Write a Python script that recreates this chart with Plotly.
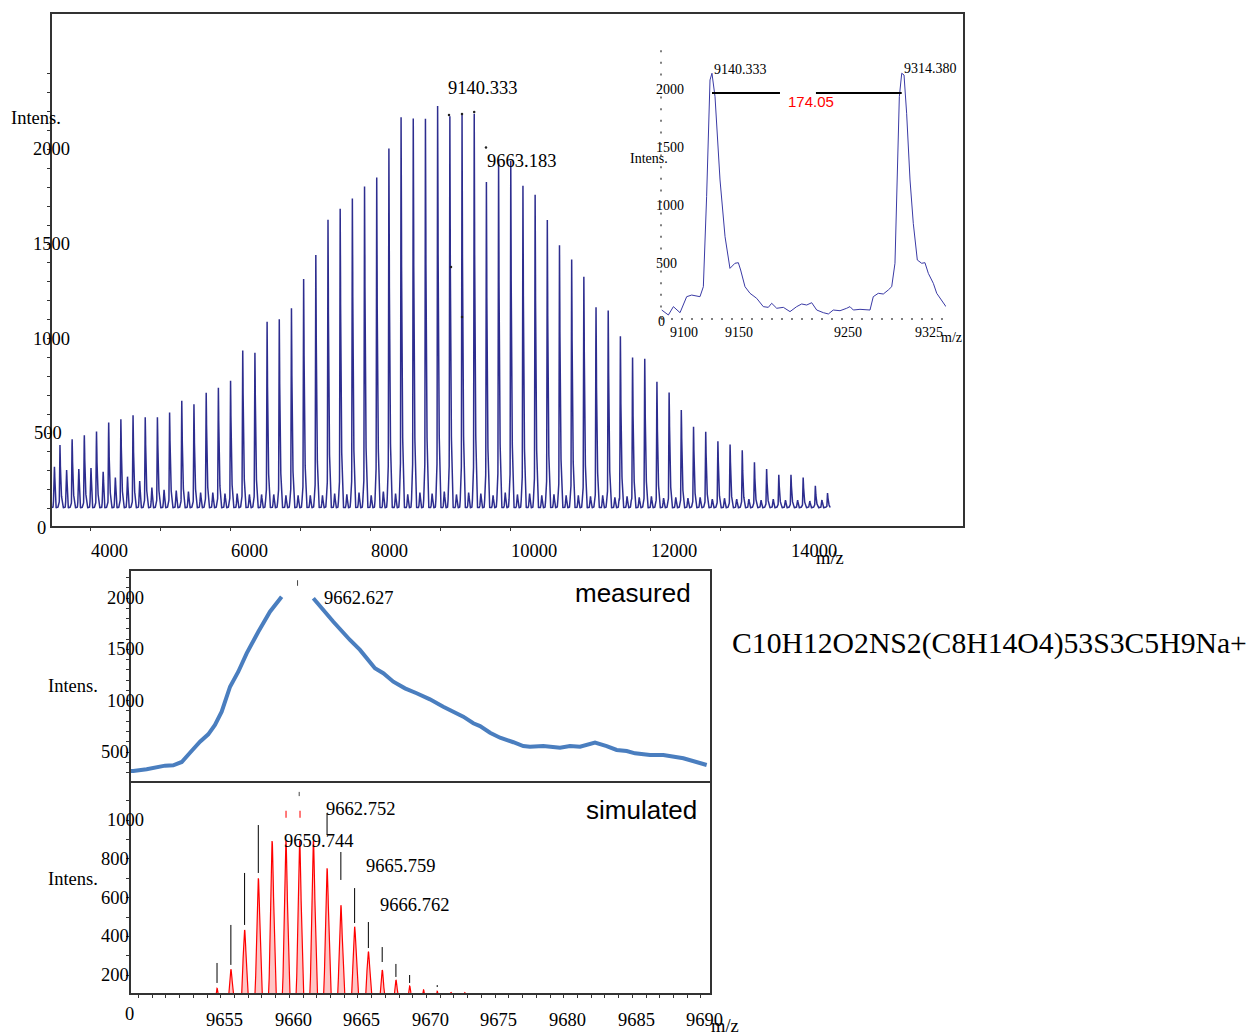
import numpy as np
import plotly.graph_objects as go

W, H = 1252, 1035
SERIF = "Liberation Serif, 'Times New Roman', serif"
SANS = "Liberation Sans, Arial, sans-serif"
FRAME = "#333333"

# ---------------- overview spectrum ----------------
REPEAT_UNIT = 174.05            # spacing of the oligomer series
REF_PEAK = 9140.333             # labelled member of the series
main_peak_index = list(range(-32, 32))
main_peak_height = [
    433, 463, 484, 504, 551, 569, 590, 579, 579, 604,
    666, 648, 710, 736, 772, 930, 918, 1080, 1093, 1151,
    1304, 1430,
    1614, 1672, 1725, 1788, 1836, 1989, 2153, 2148, 2148, 2217,
    2164, 2169, 2175, 1815, 1931, 1926, 1794, 1746, 1614, 1481,
    1406, 1315, 1156, 1138, 1004, 892, 886, 766, 710, 618,
    530, 504, 454, 437, 406, 343, 308, 278, 278, 263,
    220, 181,
]
SATELLITE_SHIFT = 95.0
satellite_index = list(range(-33, 31))
satellite_height = [
    322, 304, 310, 315, 295, 264, 269, 246, 211,
    200, 195, 190, 185, 185, 180, 180, 175, 175, 175, 170, 170, 170, 170,
    180, 175, 185, 170, 190, 180, 175, 185, 180, 190, 175, 185, 180, 170,
    185, 175, 180, 170, 175, 170,
    170, 165, 170, 160, 165, 160, 165, 155, 160, 155, 160, 150, 155, 150,
    150, 145, 150, 145, 145, 140, 145,
]
BASELINE = 105
overview_marks_mz = [9128.6, 9314.4, 9488.4, 9657.0, 9157.0, 9314.0]
overview_marks_int = [2183, 2188, 2198, 2011, 1378, 1114]

# ---------------- zoomed region of two series members ----------------
inset_mz = [9094.2, 9100.3, 9104.9, 9111.0, 9117.1, 9121.7, 9129.3, 9132.4, 9135.4, 9138.5,
            9140.3, 9143.1, 9147.7, 9152.3, 9156.8, 9161.4, 9164.5, 9166.6, 9170.6, 9175.2,
            9181.3, 9187.4, 9192.0, 9195.1, 9199.7, 9205.8, 9211.9, 9218.0, 9222.6, 9227.2,
            9231.8, 9236.4, 9242.5, 9247.1, 9251.6, 9257.8, 9263.9, 9266.9, 9270.0, 9276.1,
            9285.3, 9288.3, 9292.9, 9297.5, 9302.1, 9305.2, 9308.2, 9309.8, 9312.2, 9314.4,
            9316.5, 9318.9, 9322.0, 9325.0, 9328.7, 9332.7, 9335.7, 9338.8, 9343.4, 9346.5,
            9351.0, 9355.0]
inset_int = [99, 56, 128, 76, 214, 228, 214, 300, 1076, 2082,
             2140, 1938, 1220, 731, 458, 502, 507, 444, 300, 243,
             200, 128, 122, 157, 114, 122, 85, 128, 151, 142,
             162, 99, 76, 65, 99, 93, 114, 128, 99, 105,
             99, 214, 243, 237, 272, 300, 502, 1076, 1938, 2140,
             2125, 1795, 1220, 846, 530, 502, 507, 415, 329, 243,
             185, 128]
inset_pair = [9140.333, 9314.380]
inset_pair_level = 1970
inset_gap_edges = [9202.7, 9235.7]

# ---------------- measured isotope envelope ----------------
meas_mz = [9648.97, 9649.63, 9650.60, 9651.33, 9651.94, 9652.54, 9653.16, 9653.76, 9654.49, 9655.09,
           9655.58, 9656.07, 9656.68, 9657.28, 9657.89, 9658.74, 9659.59, 9660.44, None, 9662.75,
           9663.36, 9664.21, 9665.42, 9666.15, 9667.24, 9667.85, 9668.58, 9669.43, 9670.28, 9671.25,
           9672.22, 9673.68, 9674.41, 9674.90, 9675.63, 9676.36, 9677.33, 9678.05, 9678.54, 9679.51,
           9680.73, 9681.46, 9682.19, 9683.28, 9684.13, 9684.86, 9685.59, 9686.20, 9687.29, 9688.26,
           9689.72, 9691.42]
meas_int = [318, 315, 332, 351, 367, 371, 403, 493, 600, 672,
            763, 893, 1136, 1282, 1461, 1672, 1867, 2013, None, 1997,
            1900, 1769, 1591, 1494, 1315, 1267, 1185, 1120, 1072, 1013,
            941, 844, 780, 753, 688, 639, 595, 558, 552, 558,
            542, 558, 552, 591, 558, 520, 510, 487, 471, 471,
            439, 373]
meas_mark = (9661.6, 2146)

# ---------------- simulated isotope pattern ----------------
sim_mz = [9655.73, 9656.74, 9657.74, 9658.74, 9659.744, 9660.75, 9661.75, 9662.752, 9663.75,
          9664.756, 9665.759, 9666.762, 9667.77, 9668.77, 9669.77, 9670.78, 9671.78, 9672.78, 9673.79]
sim_height = [132, 230, 433, 699, 892, 892, 892, 892, 751,
              561, 450, 321, 227, 175, 144, 124, 117, 112, 110]
stick_mz = [9655.73, 9656.74, 9657.74, 9658.74, 9663.75, 9664.756, 9665.759, 9666.762,
            9667.77, 9668.77, 9669.77, 9671.78]
stick_lo = [160, 253, 459, 727, 923, 691, 469, 340, 268, 191, 160, 139]
stick_hi = [263, 459, 727, 974, 1036, 835, 649, 474, 345, 258, 201, 149]
sim_red_marks_mz = [9660.76, 9661.78]
sim_red_marks_int = [1030, 1030]
sim_black_mark = (9661.72, 1134)

# ---------------- tick labels ----------------
main_x_ticklabels = [4000, 6000, 8000, 10000, 12000, 14000]
main_y_ticklabels = [0, 500, 1000, 1500, 2000]
inset_x_ticklabels = [9100, 9150, 9250, 9325]
inset_y_ticklabels = [0, 500, 1000, 1500, 2000]
meas_y_ticklabels = [500, 1000, 1500, 2000]
sim_y_ticklabels = [200, 400, 600, 800, 1000]
bottom_x_ticklabels = [9655, 9660, 9665, 9670, 9675, 9680, 9685, 9690]

FORMULA = "C10H12O2NS2(C8H14O4)53S3C5H9Na+"


# ---------------- pixel geometry of each panel ----------------
class Scale:
    def __init__(self, v0, p0, s):
        self.v0, self.p0, self.s = v0, p0, s

    def px(self, v):
        return self.p0 + self.s * (v - self.v0)

    def val(self, p):
        return self.v0 + (p - self.p0) / self.s


main_xs, main_ys = Scale(4000, 90, 0.07), Scale(0, 527.5, -0.189)
ins_xs, ins_ys = Scale(9140.333, 712, 1.09), Scale(0, 321.5, -0.116)
bot_xs = Scale(9655, 207, 13.72)
meas_ys = Scale(2000, 598, -0.10267)
sim_ys = Scale(0, 1014, -0.194)

boxes = {
    "main": (52, 963, 14, 525.5),
    "inset": (661, 946, 40, 319),
    "meas": (131, 710, 571, 781),
    "sim": (131, 710, 781, 993),
}


def xdom(b):
    return [b[0] / W, b[1] / W]


def ydom(b):
    return [1 - b[3] / H, 1 - b[2] / H]


def xrng(b, sc):
    return [sc.val(b[0]), sc.val(b[1])]


def yrng(b, sc):
    return [sc.val(b[3]), sc.val(b[2])]


# ---------------- build overview profile ----------------
mz = np.arange(3440.0, 14575.0, 1.0)
inten = np.full_like(mz, float(BASELINE))
for k, h in zip(main_peak_index, main_peak_height):
    d = mz - (REF_PEAK + k * REPEAT_UNIT)
    core = np.where(d < 0, np.exp(-0.5 * (d / 4.2) ** 2), np.exp(-0.5 * (d / 6.5) ** 2))
    shoulder = 0.19 * np.exp(-0.5 * ((d - 20) / 8) ** 2) + 0.05 * np.exp(-0.5 * ((d + 17) / 6) ** 2)
    inten += (h - BASELINE) * (core + shoulder)
for k, h in zip(satellite_index, satellite_height):
    d = mz - (REF_PEAK + k * REPEAT_UNIT + SATELLITE_SHIFT)
    inten += (h - BASELINE) * np.exp(-0.5 * (d / 7.0) ** 2)

# simulated profile
sim_x = np.arange(9649.4, 9691.8, 0.01)
sim_y = np.zeros_like(sim_x)
for m, h in zip(sim_mz, sim_height):
    sim_y += h * np.exp(-0.5 * ((sim_x - m) / 0.12) ** 2)

fig = go.Figure()

fig.add_trace(go.Scatter(x=mz, y=inten, mode="lines", xaxis="x", yaxis="y",
                         line=dict(color="#2d2d8f", width=1.5), hoverinfo="skip"))
fig.add_trace(go.Scatter(x=overview_marks_mz, y=overview_marks_int, mode="markers", xaxis="x", yaxis="y",
                         marker=dict(color="#222222", size=2.5), hoverinfo="skip"))

fig.add_trace(go.Scatter(x=inset_mz, y=inset_int, mode="lines", xaxis="x2", yaxis="y2",
                         line=dict(color="#3a3aa5", width=1), hoverinfo="skip"))
fig.add_trace(go.Scatter(x=[inset_pair[0], inset_gap_edges[0], None, inset_gap_edges[1], inset_pair[1]],
                         y=[inset_pair_level] * 2 + [None] + [inset_pair_level] * 2,
                         mode="lines", xaxis="x2", yaxis="y2",
                         line=dict(color="black", width=2), hoverinfo="skip"))

fig.add_trace(go.Scatter(x=meas_mz, y=meas_int, mode="lines", xaxis="x3", yaxis="y3",
                         line=dict(color="#4a7ebf", width=4), hoverinfo="skip"))
fig.add_trace(go.Scatter(x=[meas_mark[0]], y=[meas_mark[1]], mode="markers", xaxis="x3", yaxis="y3",
                         marker=dict(symbol="line-ns", size=4, line=dict(width=1, color="#444444")),
                         hoverinfo="skip"))

fig.add_trace(go.Scatter(x=sim_x, y=sim_y, mode="lines", xaxis="x4", yaxis="y4",
                         fill="tozeroy", fillcolor="rgba(255,90,90,0.35)",
                         line=dict(color="#ff0000", width=1.2), hoverinfo="skip"))
sx, sy = [], []
for m, lo, hi in zip(stick_mz, stick_lo, stick_hi):
    sx += [m, m, None]
    sy += [lo, hi, None]
fig.add_trace(go.Scatter(x=sx, y=sy, mode="lines", xaxis="x4", yaxis="y4",
                         line=dict(color="black", width=1), hoverinfo="skip"))
fig.add_trace(go.Scatter(x=sim_red_marks_mz, y=sim_red_marks_int, mode="markers", xaxis="x4", yaxis="y4",
                         marker=dict(symbol="line-ns", size=5, line=dict(width=1.3, color="#ff3333")),
                         hoverinfo="skip"))
fig.add_trace(go.Scatter(x=[sim_black_mark[0]], y=[sim_black_mark[1]], mode="markers", xaxis="x4", yaxis="y4",
                         marker=dict(symbol="line-ns", size=3, line=dict(width=1, color="#444444")),
                         hoverinfo="skip"))

frame = dict(showline=True, mirror=True, linecolor=FRAME, linewidth=2,
             showgrid=False, zeroline=False, showticklabels=False)
tickstyle = dict(ticks="outside", ticklen=3, tickcolor=FRAME, tickwidth=1)

fig.update_layout(
    width=W, height=H, margin=dict(l=0, r=0, t=0, b=0),
    paper_bgcolor="white", plot_bgcolor="rgba(0,0,0,0)", showlegend=False,
    xaxis=dict(domain=xdom(boxes["main"]), range=xrng(boxes["main"], main_xs), anchor="y",
               tickvals=list(range(4000, 14001, 1000)), **frame, **tickstyle),
    yaxis=dict(domain=ydom(boxes["main"]), range=yrng(boxes["main"], main_ys), anchor="x",
               tickvals=list(range(100, 2401, 100)), **frame, **tickstyle),
    xaxis2=dict(domain=xdom(boxes["inset"]), range=xrng(boxes["inset"], ins_xs), anchor="y2",
                visible=False),
    yaxis2=dict(domain=ydom(boxes["inset"]), range=yrng(boxes["inset"], ins_ys), anchor="x2",
                visible=False),
    xaxis3=dict(domain=xdom(boxes["meas"]), range=xrng(boxes["meas"], bot_xs), anchor="y3", **frame),
    yaxis3=dict(domain=ydom(boxes["meas"]), range=yrng(boxes["meas"], meas_ys), anchor="x3",
                tickvals=list(range(300, 2201, 100)), **frame, **tickstyle),
    xaxis4=dict(domain=xdom(boxes["sim"]), range=xrng(boxes["sim"], bot_xs), anchor="y4",
                tickvals=list(range(9650, 9692)), **{**frame, "mirror": False}, **tickstyle),
    yaxis4=dict(domain=ydom(boxes["sim"]), range=yrng(boxes["sim"], sim_ys), anchor="x4",
                tickvals=list(range(200, 1101, 100)), **frame, **tickstyle),
)

# dotted axes of the inset
fig.add_shape(type="line", xref="paper", yref="paper", x0=661 / W, x1=661 / W,
              y0=1 - 319 / H, y1=1 - 44 / H, line=dict(color="#555555", width=1.5, dash="2px,9.6px"))
fig.add_shape(type="line", xref="paper", yref="paper", x0=661 / W, x1=943 / W,
              y0=1 - 319 / H, y1=1 - 319 / H, line=dict(color="#555555", width=1.5, dash="2px,8px"))

annotations = []


def text(t, px, py, size=18.5, family=SERIF, color="black", anchor="left"):
    annotations.append(dict(text=t, x=px / W, y=1 - py / H, xref="paper", yref="paper",
                            xanchor=anchor, yanchor="middle", showarrow=False,
                            font=dict(family=family, size=size, color=color)))


# overview axes labels
for v in main_y_ticklabels:
    left = {1: 36, 3: 33, 4: 32}[len(str(v))]
    text(str(v), left - 1, main_ys.px(v))
for v in main_x_ticklabels:
    text(str(v), main_xs.px(v) - 1, 551)
text("Intens.", 9, 118)
text("m/z", 814, 558)
text("9140.333", 446, 88)
text("9663.183", 485, 161)

# inset labels
for v in inset_y_ticklabels:
    text(str(v), (657 if v == 0 else 655) - 1, ins_ys.px(v), size=14)
for v in inset_x_ticklabels:
    text(str(v), ins_xs.px(v), 333, size=14)
text("Intens.", 628, 158, size=14)
text("m/z", 939, 338, size=14)
text("9140.333", 712, 70, size=14)
text("9314.380", 902, 69, size=14)
text("174.05", 811, 102, size=15, family=SANS, color="#ff0000", anchor="center")

# measured panel
for v in meas_y_ticklabels:
    text(str(v), (106 if v >= 1000 else 100) - 1, meas_ys.px(v))
text("Intens.", 46, 686)
text("9662.627", 322, 598)
text("measured", 573, 593, size=26, family=SANS)

# simulated panel
for v in sim_y_ticklabels:
    text(str(v), (106 if v >= 1000 else 100) - 1, sim_ys.px(v))
text("0", 123, 1014)
text("Intens.", 46, 879)
text("9662.752", 324, 809)
text("9659.744", 282, 841)
text("9665.759", 364, 866)
text("9666.762", 378, 905)
text("simulated", 584, 810, size=26, family=SANS)
for v in bottom_x_ticklabels:
    text(str(v), bot_xs.px(v) - 3, 1020)
text("m/z", 709, 1026)

text(FORMULA, 730, 643, size=29.7)

fig.update_layout(annotations=annotations)
fig.write_html("out.html")
